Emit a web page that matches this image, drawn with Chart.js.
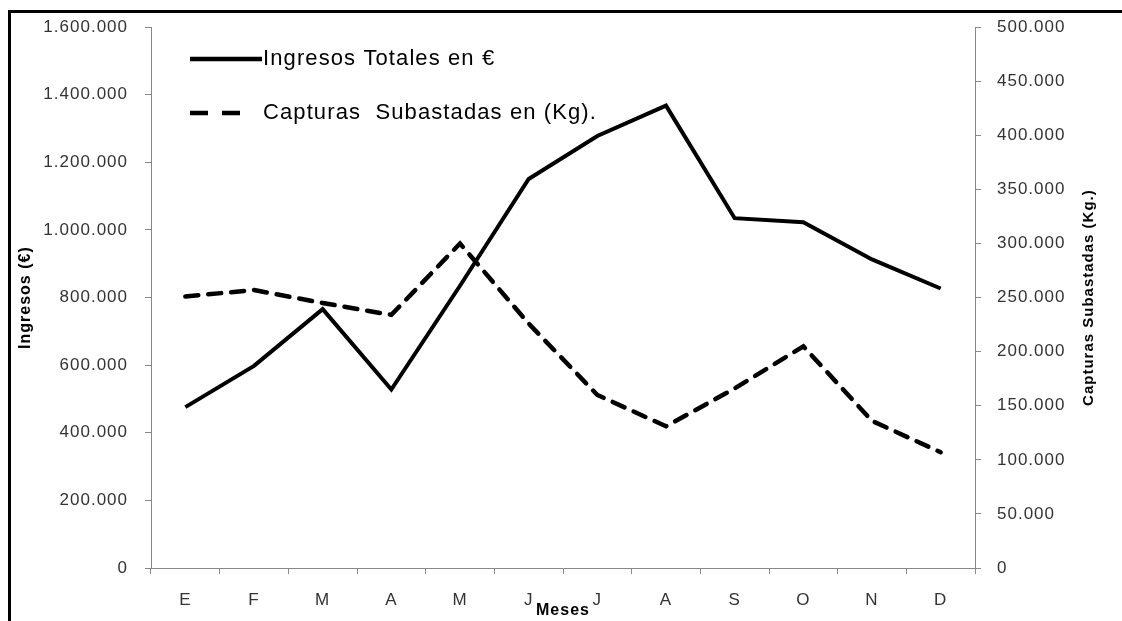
<!DOCTYPE html>
<html>
<head>
<meta charset="utf-8">
<script src="https://cdn.jsdelivr.net/npm/chart.js@4.4.0/dist/chart.umd.min.js"></script>
<style>
  html, body { margin: 0; padding: 0; background: #fff; overflow: hidden; }
  #wrap { position: relative; width: 1122px; height: 621px; }
  #frame { position: absolute; left: 8px; top: 10px; width: 1200px; height: 700px; border-left: 3px solid #000; border-top: 3px solid #000; }
  #chart { position: absolute; left: 0; top: 0; }
</style>
</head>
<body>
<div id="wrap">
  <div id="frame"></div>
  <canvas id="chart" width="1122" height="621"></canvas>
</div>
<script>
// Datos
const meses = ['E', 'F', 'M', 'A', 'M', 'J', 'J', 'A', 'S', 'O', 'N', 'D'];
const ingresos = [476000, 598000, 766000, 528000, 835000, 1151000, 1278000, 1368000, 1035000, 1023000, 913000, 827000];
const capturas = [251000, 257000, 245000, 234000, 300000, 226000, 160000, 131000, 166000, 205000, 136000, 107000];
const ingresosEje = { min: 0, max: 1600000, step: 200000 };
const capturasEje = { min: 0, max: 500000, step: 50000 };

function fmt(v) {
    return String(v).replace(/\B(?=(\d{3})+(?!\d))/g, '.');
}

Chart.defaults.font.family = '"Liberation Sans", Arial, sans-serif';

// espaciado de letras como en el original
const spacingPlugin = {
    id: 'spacing',
    beforeDraw(chart) {
        chart.ctx.letterSpacing = '1px';
    }
};

// titulo del eje derecho (leido de abajo hacia arriba)
const rightTitlePlugin = {
    id: 'rightTitle',
    afterDraw(chart) {
        const ctx = chart.ctx;
        const a = chart.chartArea;
        ctx.save();
        ctx.translate(1089, (a.top + a.bottom) / 2);
        ctx.rotate(-Math.PI / 2);
        ctx.font = 'bold 15px "Liberation Sans", Arial, sans-serif';
        ctx.fillStyle = '#000';
        ctx.textAlign = 'center';
        ctx.textBaseline = 'middle';
        ctx.fillText('Capturas Subastadas (Kg.)', 0, 0);
        ctx.restore();
    }
};

// leyenda dentro del area
const legendPlugin = {
    id: 'myLegend',
    afterDraw(chart) {
        const ctx = chart.ctx;
        const rows = [
            { y: 59, x1: 190, x2: 262 },
            { y: 113, x1: 190, x2: 240 }
        ];
        ctx.save();
        ctx.font = '22px "Liberation Sans", Arial, sans-serif';
        ctx.letterSpacing = '1.1px';
        ctx.textBaseline = 'middle';
        ctx.fillStyle = '#000';
        chart.data.datasets.forEach(function(ds, i) {
            const r = rows[i];
            ctx.beginPath();
            ctx.strokeStyle = ds.borderColor;
            ctx.lineWidth = 4.5;
            ctx.lineCap = 'butt';
            ctx.setLineDash(ds.borderDash ? [18, 14] : []);
            ctx.moveTo(r.x1, r.y);
            ctx.lineTo(r.x2, r.y);
            ctx.stroke();
            ctx.setLineDash([]);
            ctx.fillText(ds.label, 263, r.y);
        });
        ctx.restore();
    }
};

const ctx = document.getElementById('chart').getContext('2d');
window.mesesChart = new Chart(ctx, {
    type: 'line',
    data: {
        labels: meses,
        datasets: [{
            label: 'Ingresos Totales en €',
            data: ingresos,
            yAxisID: 'y',
            borderColor: '#000',
            borderWidth: 4,
            pointRadius: 0,
            tension: 0,
            fill: false
        }, {
            label: 'Capturas  Subastadas en (Kg).',
            data: capturas,
            yAxisID: 'y1',
            borderColor: '#000',
            borderWidth: 4.5,
            borderDash: [13, 10],
            borderCapStyle: 'round',
            pointRadius: 0,
            tension: 0,
            fill: false
        }]
    },
    options: {
        responsive: false,
        maintainAspectRatio: false,
        animation: false,
        layout: { padding: { top: 24, left: 0, right: 0, bottom: 0 } },
        plugins: {
            legend: { display: false },
            tooltip: { enabled: false }
        },
        scales: {
            x: {
                offset: true,
                grid: { offset: true, drawOnChartArea: false, color: '#888', tickLength: 6 },
                border: { color: '#888' },
                ticks: { color: '#333', font: { size: 17 }, padding: 16, maxRotation: 0, autoSkip: false },
                title: { display: true, text: 'Meses', color: '#000', font: { size: 16, weight: 'bold' }, padding: { top: 0, bottom: 1 } },
                afterFit: function(s) { s.height = 53; }
            },
            y: {
                position: 'left',
                min: ingresosEje.min,
                max: ingresosEje.max,
                grid: { drawOnChartArea: false, color: '#888', tickLength: 6 },
                border: { color: '#888' },
                ticks: { stepSize: ingresosEje.step, callback: fmt, color: '#333', font: { size: 17 }, padding: 17 },
                title: { display: true, text: 'Ingresos (€)', color: '#000', font: { size: 16, weight: 'bold' }, padding: { top: 16, bottom: 0 } },
                afterFit: function(s) { s.width = 151; }
            },
            y1: {
                position: 'right',
                min: capturasEje.min,
                max: capturasEje.max,
                grid: { drawOnChartArea: false, color: '#888', tickLength: 6 },
                border: { color: '#888' },
                ticks: { stepSize: capturasEje.step, callback: fmt, color: '#333', font: { size: 17 }, padding: 16 },
                afterFit: function(s) { s.width = 147; }
            }
        }
    },
    plugins: [spacingPlugin, rightTitlePlugin, legendPlugin]
});
</script>
</body>
</html>
